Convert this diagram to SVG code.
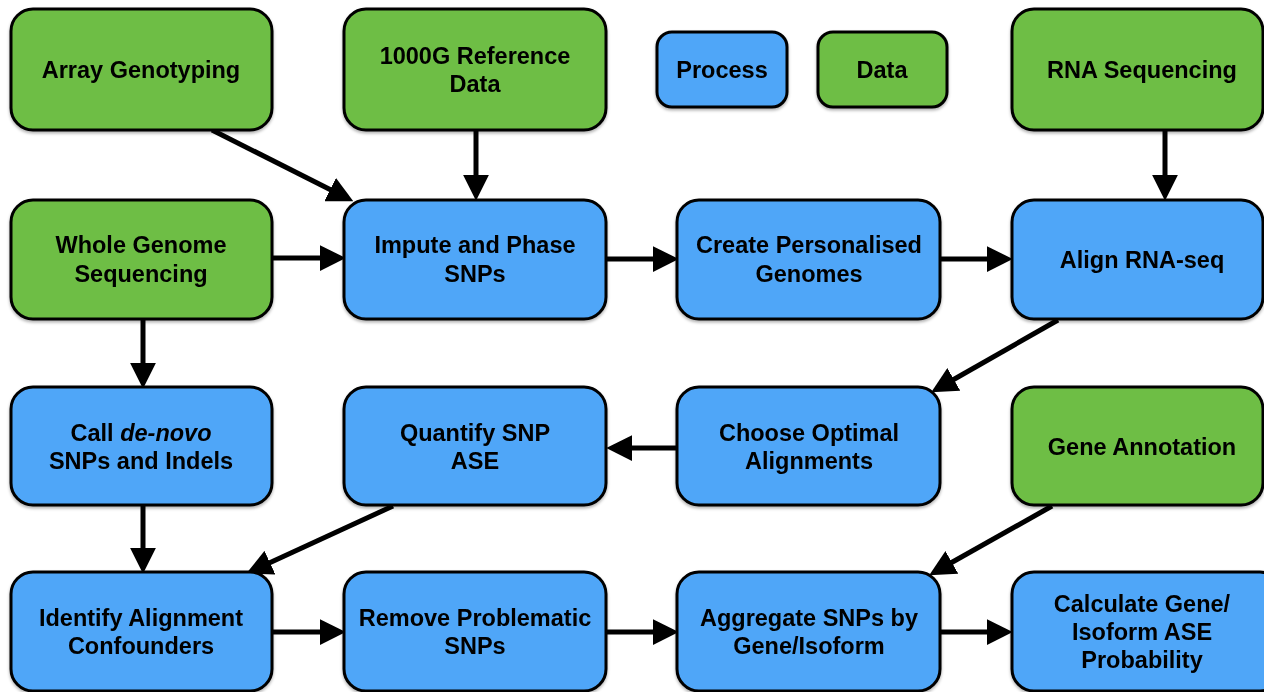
<svg xmlns="http://www.w3.org/2000/svg" width="1264" height="692" viewBox="0 0 1264 692">
<style>
.box{stroke:#000;stroke-width:3}
.proc{fill:#50A6F8}
.data{fill:#6EBE44}
text{font-family:"Liberation Sans",Arial,Helvetica,sans-serif;font-weight:bold;font-size:23.5px;fill:#000;text-anchor:middle}
.edge{stroke:#000;stroke-width:5;fill:none}
</style>
<defs>
<filter id="sh" x="-5%" y="-5%" width="110%" height="115%">
<feDropShadow dx="0" dy="2" stdDeviation="1.5" flood-color="#000" flood-opacity="0.3"/>
</filter>
<marker id="ah" markerUnits="userSpaceOnUse" markerWidth="26" markerHeight="26" refX="3" refY="12" orient="auto" viewBox="0 0 24 24">
<path d="M0,0 L24,12 L0,24 z" fill="#000"/>
</marker>
</defs>
<rect width="1264" height="692" fill="#fff"/>

<g id="connectors">
<line class="edge" x1="212" y1="130" x2="333" y2="191" marker-end="url(#ah)"/>
<line class="edge" x1="476" y1="130" x2="476" y2="178" marker-end="url(#ah)"/>
<line class="edge" x1="272" y1="258" x2="323" y2="258" marker-end="url(#ah)"/>
<line class="edge" x1="143" y1="319" x2="143" y2="366" marker-end="url(#ah)"/>
<line class="edge" x1="606" y1="259" x2="656" y2="259" marker-end="url(#ah)"/>
<line class="edge" x1="940" y1="259" x2="990" y2="259" marker-end="url(#ah)"/>
<line class="edge" x1="1165" y1="130" x2="1165" y2="178" marker-end="url(#ah)"/>
<line class="edge" x1="1058" y1="320" x2="951" y2="381" marker-end="url(#ah)"/>
<line class="edge" x1="677" y1="448" x2="629" y2="448" marker-end="url(#ah)"/>
<line class="edge" x1="143" y1="505" x2="143" y2="551" marker-end="url(#ah)"/>
<line class="edge" x1="393" y1="506" x2="267" y2="564" marker-end="url(#ah)"/>
<line class="edge" x1="1052" y1="506" x2="949" y2="564" marker-end="url(#ah)"/>
<line class="edge" x1="272" y1="632" x2="323" y2="632" marker-end="url(#ah)"/>
<line class="edge" x1="606" y1="632" x2="656" y2="632" marker-end="url(#ah)"/>
<line class="edge" x1="940" y1="632" x2="990" y2="632" marker-end="url(#ah)"/>
</g>

<g id="array-genotyping" filter="url(#sh)">
<rect class="box data" x="11" y="9" width="261" height="121" rx="22"/>
<text x="141" y="78">Array Genotyping</text>
</g>
<g id="ref-1000g" filter="url(#sh)">
<rect class="box data" x="344" y="9" width="262" height="121" rx="22"/>
<text x="475" y="64">1000G Reference</text>
<text x="475" y="92">Data</text>
</g>
<g id="legend-process" filter="url(#sh)">
<rect class="box proc" x="657" y="32" width="130" height="75" rx="15"/>
<text x="722" y="78">Process</text>
</g>
<g id="legend-data" filter="url(#sh)">
<rect class="box data" x="818" y="32" width="129" height="75" rx="15"/>
<text x="882" y="78">Data</text>
</g>
<g id="rna-seq" filter="url(#sh)">
<rect class="box data" x="1012" y="9" width="251" height="121" rx="22"/>
<text x="1142" y="78">RNA Sequencing</text>
</g>

<g id="wgs" filter="url(#sh)">
<rect class="box data" x="11" y="200" width="261" height="119" rx="22"/>
<text x="141" y="253">Whole Genome</text>
<text x="141" y="282">Sequencing</text>
</g>
<g id="impute" filter="url(#sh)">
<rect class="box proc" x="344" y="200" width="262" height="119" rx="22"/>
<text x="475" y="253">Impute and Phase</text>
<text x="475" y="282">SNPs</text>
</g>
<g id="personalised" filter="url(#sh)">
<rect class="box proc" x="677" y="200" width="263" height="119" rx="22"/>
<text x="809" y="253">Create Personalised</text>
<text x="809" y="282">Genomes</text>
</g>
<g id="align" filter="url(#sh)">
<rect class="box proc" x="1012" y="200" width="251" height="119" rx="22"/>
<text x="1142" y="268">Align RNA-seq</text>
</g>

<g id="call-denovo" filter="url(#sh)">
<rect class="box proc" x="11" y="387" width="261" height="118" rx="22"/>
<text x="141" y="441">Call <tspan font-style="italic">de-novo</tspan></text>
<text x="141" y="469">SNPs and Indels</text>
</g>
<g id="quantify" filter="url(#sh)">
<rect class="box proc" x="344" y="387" width="262" height="118" rx="22"/>
<text x="475" y="441">Quantify SNP</text>
<text x="475" y="469">ASE</text>
</g>
<g id="choose" filter="url(#sh)">
<rect class="box proc" x="677" y="387" width="263" height="118" rx="22"/>
<text x="809" y="441">Choose Optimal</text>
<text x="809" y="469">Alignments</text>
</g>
<g id="gene-annotation" filter="url(#sh)">
<rect class="box data" x="1012" y="387" width="251" height="118" rx="22"/>
<text x="1142" y="455">Gene Annotation</text>
</g>

<g id="identify" filter="url(#sh)">
<rect class="box proc" x="11" y="572" width="261" height="119" rx="22"/>
<text x="141" y="626">Identify Alignment</text>
<text x="141" y="654">Confounders</text>
</g>
<g id="remove" filter="url(#sh)">
<rect class="box proc" x="344" y="572" width="262" height="119" rx="22"/>
<text x="475" y="626">Remove Problematic</text>
<text x="475" y="654">SNPs</text>
</g>
<g id="aggregate" filter="url(#sh)">
<rect class="box proc" x="677" y="572" width="263" height="119" rx="22"/>
<text x="809" y="626">Aggregate SNPs by</text>
<text x="809" y="654">Gene/Isoform</text>
</g>
<g id="calculate" filter="url(#sh)">
<rect class="box proc" x="1012" y="572" width="270" height="119" rx="22"/>
<text x="1142" y="612">Calculate Gene/</text>
<text x="1142" y="640">Isoform ASE</text>
<text x="1142" y="668">Probability</text>
</g>
</svg>
